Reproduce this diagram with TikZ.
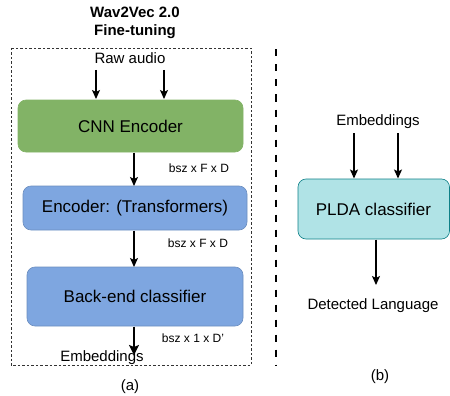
\documentclass[tikz,border=0pt]{standalone}
\usepackage{fontspec}
\setmainfont{Liberation Sans}
\usetikzlibrary{arrows.meta}
\begin{document}
\begin{tikzpicture}[x=1pt,y=-1pt,
  boxtext/.style={font=\fontsize{17}{19}\selectfont},
  lbl/.style={font=\fontsize{15}{17}\selectfont, inner sep=0pt},
  dimlbl/.style={font=\fontsize{12}{14}\selectfont, inner sep=0pt},
  rbox/.style={rounded corners=8pt, line width=0.6pt, boxtext},
  arr/.style={line width=1.3pt, -{Stealth[length=9pt,width=8pt,inset=2pt]}},
  thickarr/.style={line width=2.6pt, -{Stealth[length=10pt,width=10pt,inset=2pt]}}
]
\useasboundingbox (0,0) rectangle (450,396);
\definecolor{grnfill}{HTML}{82B366}
\definecolor{grndraw}{HTML}{82B366}
\definecolor{bluefill}{HTML}{7EA6E0}
\definecolor{bluedraw}{HTML}{6C8EBF}
\definecolor{cyanfill}{HTML}{B0E3E6}
\definecolor{cyandraw}{HTML}{0E8088}

% title
\node[font=\fontsize{15}{17}\selectfont\bfseries, align=center, inner sep=0pt] (title) at (135,23) {Wav2Vec 2.0\\[1pt]Fine-tuning};

% dashed frame
\draw[line width=0.7pt, dash pattern=on 2.5pt off 2pt, black!80] (11,48) rectangle (251,365);

% left column
\node[lbl] (raw) at (130,58) {Raw audio};
\coordinate (r1) at (96,70);
\coordinate (r2) at (164,70);

\path[rbox, fill=grnfill, draw=grndraw] (18,100) rectangle (243,152);
\node[boxtext] (cnn) at (130.5,126) {CNN Encoder};
\coordinate (cnnT1) at (96,99);
\coordinate (cnnT2) at (164,99);
\coordinate (cnnB) at (134,152.5);

\path[rbox, fill=bluefill, draw=bluedraw] (23,186) rectangle (247,230);
\node[boxtext] (enc) at (135,208) {Encoder: (Transformers)};
\coordinate (encT) at (134,186);
\coordinate (encB) at (134,230.5);

\path[rbox, fill=bluefill, draw=bluedraw] (27,267) rectangle (243,326);
\node[boxtext] (back) at (135,296.5) {Back-end classifier};
\coordinate (backT) at (134,267);
\coordinate (backB) at (134,326.5);

\node[dimlbl] (d1) at (199,168) {bsz x F x D};
\node[dimlbl] (d2) at (198,243) {bsz x F x D};
\node[dimlbl] (d3) at (193,338.5) {bsz x 1 x D'};

\node[lbl] (emb) at (102,358) {Embeddings};
\coordinate (embT) at (134,355);
\node[lbl] (a) at (130,387) {(a)};

\draw[arr] (r1) -- (cnnT1);
\draw[arr] (r2) -- (cnnT2);
\draw[arr] (cnnB) -- (encT);
\draw[arr] (encB) -- (backT);
\draw[thickarr] (backB) -- (embT);

% separator
\draw[line width=2.6pt, dash pattern=on 7pt off 8pt] (276,49.5) -- (276,365);

% right column
\node[lbl] (emb2) at (378,122) {Embeddings};
\coordinate (e1) at (354,133);
\coordinate (e2) at (398,133);
\path[rbox, fill=cyanfill, draw=cyandraw] (298,179) rectangle (449.5,239);
\node[boxtext] (plda) at (373.5,209) {PLDA classifier};
\coordinate (pT1) at (354,178.5);
\coordinate (pT2) at (398,178.5);
\coordinate (pB) at (376,239.5);
\coordinate (detT) at (376,285);
\node[lbl] (det) at (373,306) {Detected Language};
\node[lbl] (b) at (380,377) {(b)};

\draw[arr] (e1) -- (pT1);
\draw[arr] (e2) -- (pT2);
\draw[arr] (pB) -- (detT);
\end{tikzpicture}
\end{document}
